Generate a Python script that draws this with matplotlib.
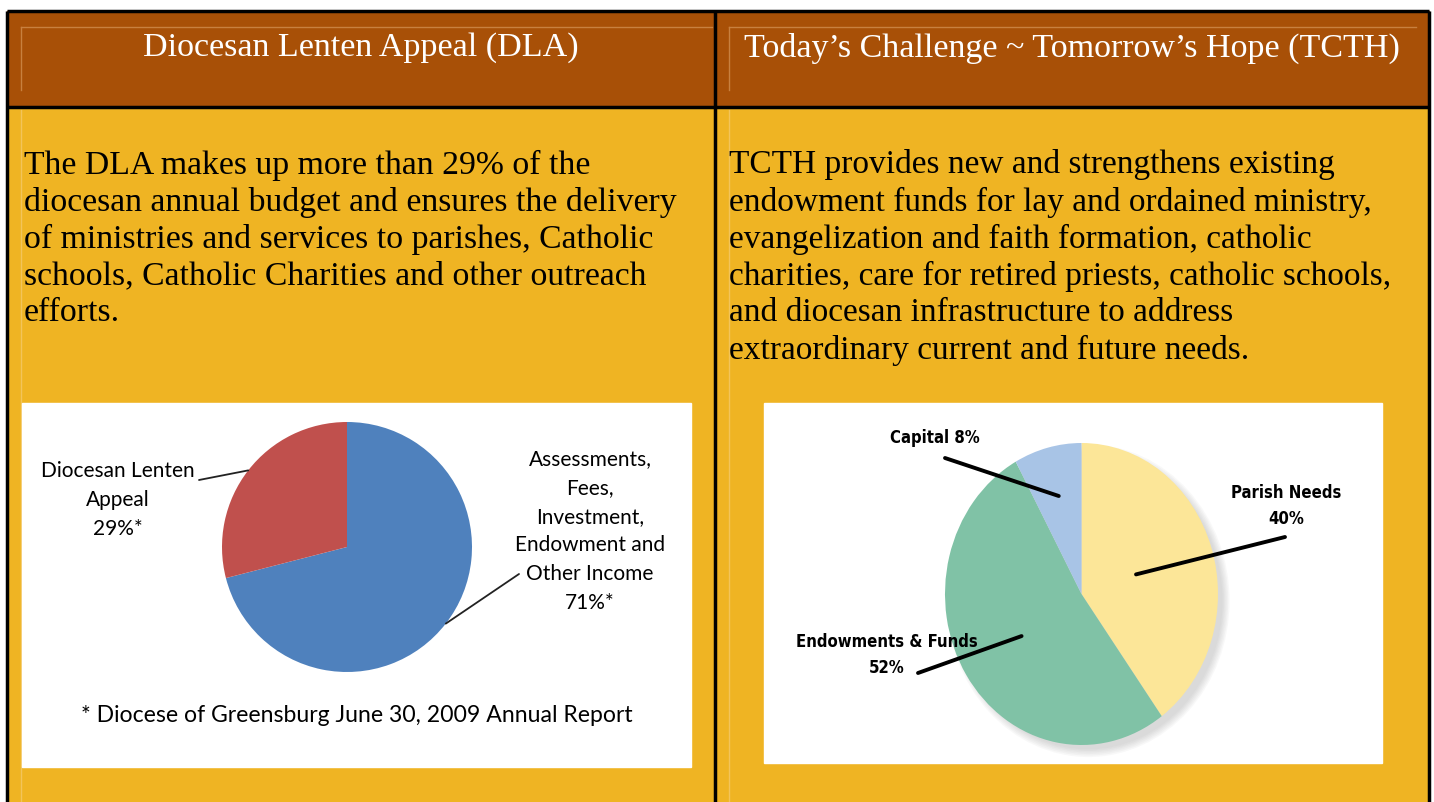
import matplotlib.pyplot as plt
import matplotlib.patches as mpatches
from matplotlib import font_manager
import numpy as np

# header and body text
headers = ["Diocesan Lenten Appeal (DLA)", "Today\u2019s Challenge ~ Tomorrow\u2019s Hope (TCTH)"]
body_left = ["The DLA makes up more than 29% of the",
             "diocesan annual budget and ensures the delivery",
             "of ministries and services to parishes, Catholic",
             "schools, Catholic Charities and other outreach",
             "efforts."]
body_right = ["TCTH provides new and strengthens existing",
              "endowment funds for lay and ordained ministry,",
              "evangelization and faith formation, catholic",
              "charities, care for retired priests, catholic schools,",
              "and diocesan infrastructure to address",
              "extraordinary current and future needs."]

# DLA pie
dla_labels = ["Assessments,\nFees,\nInvestment,\nEndowment and\nOther Income\n71%*",
              "Diocesan Lenten\nAppeal\n29%*"]
dla_values = [71, 29]
dla_colors = ["#4F81BD", "#C0504D"]
dla_note = "* Diocese of Greensburg June 30, 2009 Annual Report"

# TCTH pie
tcth_labels = ["Parish Needs\n40%", "Endowments & Funds\n52%", "Capital 8%"]
tcth_values = [40, 52, 8]
tcth_colors = ["#FCE698", "#80C2A6", "#A8C4E6"]

W, H = 1434, 802
fig = plt.figure(figsize=(W / 100, H / 100), dpi=100)
bg = fig.add_axes([0, 0, 1, 1])
bg.set_xlim(0, W)
bg.set_ylim(H, 0)
bg.axis('off')

brown = "#A85007"
gold = "#EFB423"
bg.add_patch(mpatches.Rectangle((7, 11), 1422, 96, color=brown, zorder=0))
bg.add_patch(mpatches.Rectangle((7, 107), 1422, 700, color=gold, zorder=0))
# faint inner cell lines
for x0, x1 in [(21, 712), (729, 1416)]:
    bg.plot([x0, x1], [27, 27], color="#C8803F", lw=1, zorder=1)
    bg.plot([x0, x0], [27, 90], color="#C8803F", lw=1, zorder=1)
    bg.plot([x0, x0], [110, 802], color="#F3C45A", lw=1, zorder=1)
# black borders
kw = dict(color="black", lw=2.5, zorder=5, solid_capstyle='butt')
bg.plot([7, 1429], [11, 11], **kw)
bg.plot([7, 7], [11, 802], **kw)
bg.plot([1429, 1429], [11, 802], **kw)
bg.plot([7, 1429], [107, 107], **kw)
bg.plot([715, 715], [11, 802], **kw)

serif = "Liberation Serif"
bg.text(361, 48, headers[0], color="white", fontsize=24.5, family=serif, ha='center', va='center')
bg.text(1072, 48, headers[1], color="white", fontsize=24.5, family=serif, ha='center', va='center')
for i, line in enumerate(body_left):
    bg.text(24, 165 + 37 * i, line, fontsize=24.3, family=serif, va='center', ha='left')
for i, line in enumerate(body_right):
    bg.text(729, 165 + 37 * i, line, fontsize=24, family=serif, va='center', ha='left')

# white chart boxes
bg.add_patch(mpatches.Rectangle((22, 403), 669, 364, color="white", zorder=1))
bg.add_patch(mpatches.Rectangle((764, 403), 618, 360, color="white", zorder=1))


def pie_axes(x0, y0, x1, y1, pad=14):
    # axes around the pie box (pixels), padded so the shadow is not clipped
    ax = fig.add_axes([(x0 - pad) / W, 1 - (y1 + pad) / H,
                       (x1 - x0 + 2 * pad) / W, (y1 - y0 + 2 * pad) / H])
    fx = 1 + 2 * pad / (x1 - x0)
    fy = 1 + 2 * pad / (y1 - y0)
    return ax, fx, fy


# left pie
ax1, fx, fy = pie_axes(222, 422, 472, 672)
ax1.pie(dla_values, colors=dla_colors, startangle=90, counterclock=False, radius=1)
ax1.set_aspect('auto')
ax1.set_xlim(-fx, fx)
ax1.set_ylim(-fy, fy)
ax1.axis('off')

cum = np.cumsum([0] + dla_values)
mids = [90 - 360 * (cum[i] + dla_values[i] / 2) / 100 for i in range(len(dla_values))]
starts = [(519, 574), (199, 480)]
for m, s in zip(mids, starts):
    ax1.annotate('', xy=(np.cos(np.radians(m)), np.sin(np.radians(m))), xytext=s,
                 textcoords=bg.transData,
                 arrowprops=dict(arrowstyle='-', lw=1.3, color='#222222', shrinkA=0, shrinkB=0))

# right pie
ax2, fx, fy = pie_axes(945, 443, 1218, 745)
# soft shadow, lower right
for k in range(6):
    ax2.add_patch(mpatches.Ellipse((0.05, -0.045), 1.97 + 0.02 * k, 1.97 + 0.02 * k,
                                   color='gray', alpha=0.05, lw=0))
ax2.pie(tcth_values, colors=tcth_colors, startangle=90, counterclock=False, radius=1)
ax2.set_aspect('auto')
ax2.set_xlim(-fx, fx)
ax2.set_ylim(-fy, fy)
ax2.axis('off')

line_start = [(1285, 537), (918, 673), (945, 458)]
radii = [0.42, 0.52, 0.67]
cum = np.cumsum([0] + tcth_values)
for i in range(len(tcth_values)):
    m = np.radians(90 - 360 * (cum[i] + tcth_values[i] / 2) / 100)
    ax2.annotate('', xy=(radii[i] * np.cos(m), radii[i] * np.sin(m)), xytext=line_start[i],
                 textcoords=bg.transData,
                 arrowprops=dict(arrowstyle='-', lw=2.8, color='black', shrinkA=0, shrinkB=0))

# labels on top of everything
fg = fig.add_axes([0, 0, 1, 1])
fg.set_xlim(0, W)
fg.set_ylim(H, 0)
fg.axis('off')
fg.patch.set_alpha(0)

calibri = ["Lato", "DejaVu Sans"]
fg.text(590, 531, dla_labels[0], fontsize=15, family=calibri, ha='center', va='center',
        linespacing=1.55)
fg.text(118, 500, dla_labels[1], fontsize=15, family=calibri, ha='center', va='center',
        linespacing=1.55)
fg.text(357, 716, dla_note, fontsize=16.6, family=calibri, ha='center', va='center')

cond = font_manager.FontProperties(family="DejaVu Sans", stretch='condensed', weight='bold',
                                   size=12)
label_pos = [(1286, 506), (887, 655), (935, 438)]
for lab, pos in zip(tcth_labels, label_pos):
    fg.text(*pos, lab, fontproperties=cond, ha='center', va='center', linespacing=1.6)

fig.savefig("out.png", dpi=100)
